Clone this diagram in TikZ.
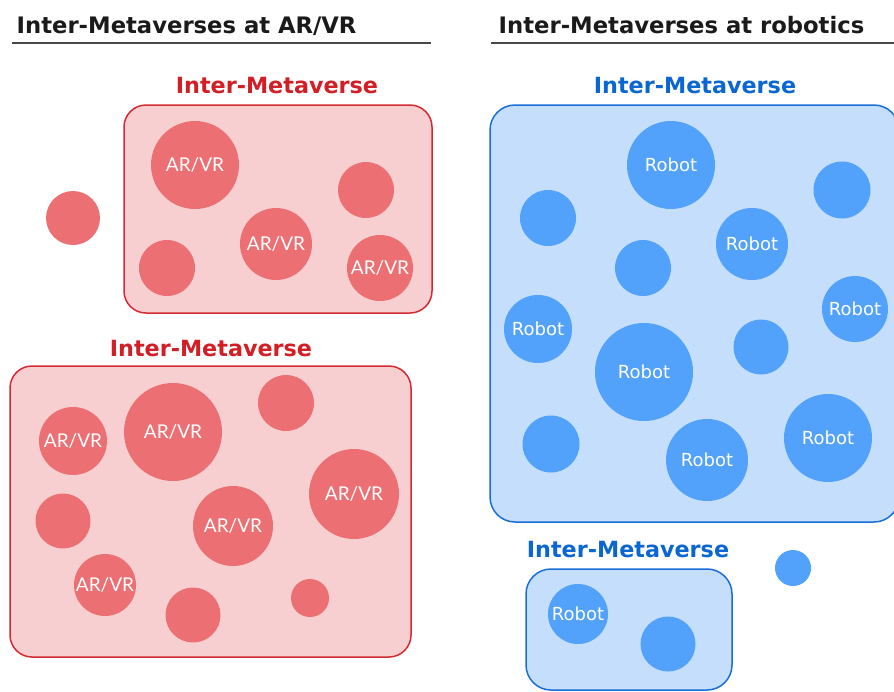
\documentclass[tikz,border=0pt]{standalone}
\usepackage{fontspec}
\setmainfont{DejaVu Sans}
\newfontfamily\latofont{Lato}
\usetikzlibrary{positioning}

\definecolor{redline}{HTML}{D42A32}
\definecolor{redfill}{HTML}{F8CFD0}
\definecolor{redball}{HTML}{EC7073}
\definecolor{redtext}{HTML}{D21F26}
\definecolor{blueline}{HTML}{1A6FD6}
\definecolor{bluefill}{HTML}{C4DEFB}
\definecolor{blueball}{HTML}{52A2FC}
\definecolor{bluetext}{HTML}{0A66D0}
\definecolor{titletext}{HTML}{1A1A1A}

\tikzset{
  every picture/.style={line width=0.75pt},
  heading/.style={anchor=base west, text=titletext, font=\bfseries\fontsize{22.7}{26}\selectfont},
  mvlabel/.style={anchor=base, font=\bfseries\fontsize{22.3}{26}\selectfont},
  rbox/.style={draw=redline, fill=redfill, line width=1.5pt, rounded corners=22pt},
  bbox/.style={draw=blueline, fill=bluefill, line width=1.5pt, rounded corners=25pt},
  rball/.style={circle, fill=redball, inner sep=0pt, minimum size=#1, text=white,
    font=\latofont\fontsize{19}{21}\selectfont},
  bball/.style={circle, fill=blueball, inner sep=0pt, minimum size=#1, text=white,
    font=\fontsize{18}{20}\selectfont},
}

\begin{document}
\begin{tikzpicture}[x=1pt, y=-1pt]
    \useasboundingbox (0,0) rectangle (894,691);
    \clip (0,0) rectangle (894,691);

    % titles
    \node[heading] (arvrtitle) at (13,33) {Inter-Metaverses at AR/VR};
    \draw[titletext!80, line width=1.5pt] (12,43) -- (431,43);
    \node[heading] (robtitle) at (495,33) {Inter-Metaverses at robotics};
    \draw[titletext!80, line width=1.5pt] (491,43) -- (894,43);

    % AR/VR: upper Inter-Metaverse
    \node[mvlabel, text=redtext] (arvrmv1) at (277,93) {Inter-Metaverse};
    \draw[rbox] (124,105) rectangle (432,313);
    \node[rball=88pt] (av1) at (195,165) {AR/VR};
    \node[rball=56pt] (av2) at (366,190) {};
    \node[rball=72pt] (av3) at (276,244) {AR/VR};
    \node[rball=56pt] (av4) at (167,268) {};
    \node[rball=66pt] (av5) at (380,268) {AR/VR};

    % lone AR/VR outside
    \node[rball=54pt] (av0) at (73,218) {};

    % AR/VR: lower Inter-Metaverse
    \node[mvlabel, text=redtext] (arvrmv2) at (211,356) {Inter-Metaverse};
    \draw[rbox] (10,366) rectangle (411,657);
    \node[rball=68pt] (aw1) at (73,441) {AR/VR};
    \node[rball=98pt] (aw2) at (173,432) {AR/VR};
    \node[rball=56pt] (aw3) at (286,403) {};
    \node[rball=90pt] (aw4) at (354,494) {AR/VR};
    \node[rball=55pt] (aw5) at (63,521) {};
    \node[rball=80pt] (aw6) at (233,526) {AR/VR};
    \node[rball=62pt] (aw7) at (105,585) {AR/VR};
    \node[rball=55pt] (aw8) at (193,615) {};
    \node[rball=38pt] (aw9) at (310,598) {};

    % robotics: big Inter-Metaverse
    \node[mvlabel, text=bluetext] (robmv1) at (695,93) {Inter-Metaverse};
    \draw[bbox] (490,105) rectangle (899,522);
    \node[bball=88pt] (rb1) at (671,165) {Robot};
    \node[bball=56pt] (rb2) at (548,218) {};
    \node[bball=57pt] (rb3) at (842,190) {};
    \node[bball=72pt] (rb4) at (752,244) {Robot};
    \node[bball=56pt] (rb5) at (643,268) {};
    \node[bball=66pt] (rb6) at (855,309) {Robot};
    \node[bball=68pt] (rb7) at (538,329) {Robot};
    \node[bball=98pt] (rb8) at (644,372) {Robot};
    \node[bball=55pt] (rb9) at (761,347) {};
    \node[bball=57pt] (rb10) at (551,444) {};
    \node[bball=82pt] (rb11) at (707,460) {Robot};
    \node[bball=88pt] (rb12) at (828,438) {Robot};

    % robotics: small Inter-Metaverse
    \node[mvlabel, text=bluetext] (robmv2) at (628,557) {Inter-Metaverse};
    \draw[bbox] (526,569) rectangle (732,690);
    \node[bball=60pt] (rc1) at (578,614) {Robot};
    \node[bball=55pt] (rc2) at (668,644) {};

    % lone robot outside
    \node[bball=36pt] (rb0) at (793,568) {};
\end{tikzpicture}
\end{document}
